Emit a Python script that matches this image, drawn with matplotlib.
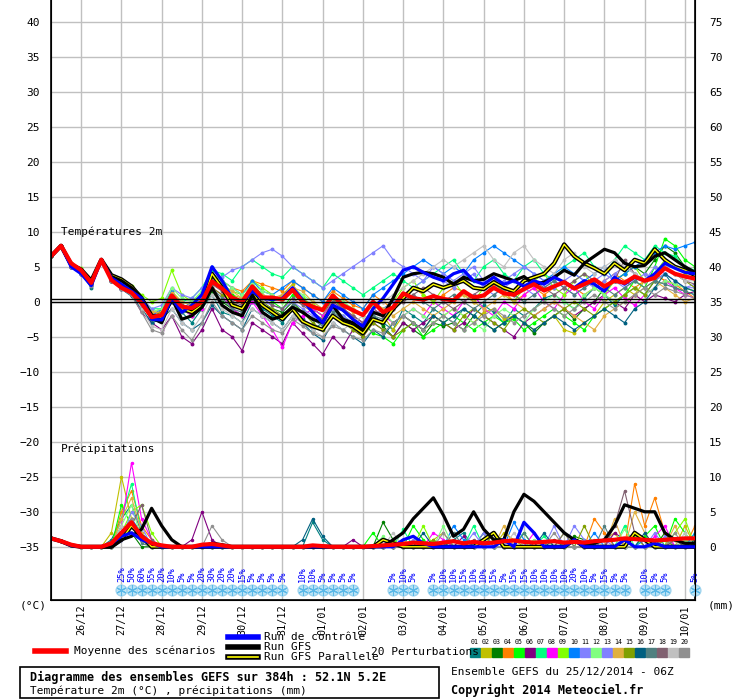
import matplotlib
matplotlib.use("Agg")
import matplotlib.pyplot as plt
import numpy as np
from matplotlib.patches import Rectangle

plt.rcParams['font.family'] = ['DejaVu Sans Mono']

n_steps = 65
day_labels = ["26/12","27/12","28/12","29/12","30/12","31/12","01/01","02/01",
              "03/01","04/01","05/01","06/01","07/01","08/01","09/01","10/01"]
day_index = [3 + 4*k for k in range(16)]

mean_temp = [6.5,8,5.5,4.5,2.7,6,3.1,2,1.3,-0.2,
             -2.2,-1.9,0.9,-0.7,-0.9,0,2.9,1.9,0.6,0,
             2.2,0.6,0.6,0.3,1.7,0,-0.7,-1.2,0.9,-0.5,
             -1.2,-1.9,0,-1.5,-0.8,1.2,0.5,0.3,0.8,0.4,
             0.2,1.5,0.6,0.9,2.0,1.2,1.0,1.8,2.5,1.6,
             2.2,2.8,1.9,2.5,3.2,2.2,3.0,2.7,3.6,3.0,
             3.4,4.8,4.0,3.6,3.3]
gfs_temp = [6.5,8,5.2,4.3,2.5,6,3.6,3,2,0.5,
            -2.3,-3,0.5,-2.5,-2,-0.8,2,-0.5,-1.5,-2,
            1,-1.5,-2.5,-2,-0.8,-1.5,-2.5,-3,-0.5,-2.5,
            -3,-4,-1.5,-2,0.5,3.5,4,4.2,4,3.5,
            2.5,3.5,3,3.2,4,3.5,3,3.6,2.5,2.8,
            3.5,4.5,3.8,5.5,6.5,7.5,7,5.5,5,5.2,
            6.5,7,6,5,4.2]
ctrl_temp = [6.5,8,5,4,2.3,6,3.4,2.5,1.5,0.5,
             -2.5,-2.6,0.5,-1.5,-0.5,1,5,3,0.5,0,
             1.5,0.5,0.3,0.5,2,0.3,-1.5,-3,-0.5,-1.2,
             -2.5,-3.5,-1,0.5,2.5,4.5,5,4.2,3.5,3,
             4,4.5,3,2.5,3.5,2.5,3,2.2,3,2.5,
             3.5,2.8,2,3,2.5,1.5,3.5,2.5,3.5,3,
             4,5.5,4.8,4.2,4.0]
para_temp = [6.5,8,5.3,4.6,3,6,3.8,3.2,2.2,0.5,
             -2,-2.2,0.3,-1,-1.5,-0.5,4,2,-0.5,-1,
             1.2,-0.5,-1.5,-2.5,-1,-2.8,-3.5,-4,-2,-3,
             -3.5,-4.5,-2.5,-3,-1,0.5,2,1.5,2.5,2,
             2.5,3,2,1.8,2.8,2,1.5,3,3.5,4,
             5.5,8.2,6.5,5.5,4.8,4,5.5,4.5,6,5.5,
             7.5,6,5,4.5,3.8]

pert_colors = ["#008080","#c0c000","#008000","#ff8000","#00ff00","#800080","#00ff80",
               "#ff00ff","#80ff00","#0080ff","#8080ff","#80ff80","#8080ff","#e0b040",
               "#80a000","#006080","#508080","#806070","#c0c0c0","#909090"]
pert_names = ["%02d" % (k+1) for k in range(20)]

pert_temp = [
 [6.5,8,5,4,2,6,3,2,1,-1, -3,-1,0,-1.5,-3,-1,1,-1.5,-2,-3, 0,-1,-2,-3,-1,-2.5,-4,-3,-1,-2, -3,-5,-2,-3,-4,-1,-2,-3,-1,-2, -3,-1,-2,-0.5,-1.5,-3,-1,-2,-1,0.5, 1,0,-1,0.5,2,1,-0.5,1,2,1, 3,4,2,1.5,1],
 [6.5,8,5.2,4.5,2.8,6,3.5,2.5,2,0, -1.5,-1,1.5,0,-0.5,1,3,2,1,0.5, 2,1,0,1,2.5,0.5,-1,-2,0,-1, -2,-3,-1,-2,-4,-2,-3,-4,-3,-2, -1,-2,-3,-1.5,-1,-2.5,-2,-3,-4,-3, -2,-4,-4.5,-3,-2,0,1,2,1,3, 4,3,2.5,2,1.5],
 [6.5,8,5,4.2,2.5,6,3.2,2,1,-0.5, -2.5,-2,0.5,-1,-2,-1,1.5,0,-1,-2, 0.5,-0.5,-1,-1.5,0,-1.5,-2.5,-3,-1,-2.5, -3.5,-5,-2,-3.5,-5,-3,-4,-5,-3,-3.5, -3,-4,-2,-3,-4,-3,-2,-3,-4.5,-3, -2,-1,-2.5,-1,0,2,3,4,5,4, 6,8,7,5,4],
 [6.5,8,5.4,4.4,2.7,6,3,2.2,1.5,0, -1.5,-1.5,1,-0.5,-1.5,0.5,2.5,3,2,1.5, 3,2.5,2,1.5,3,2,1,0,1.5,0.5, -0.5,-1,1,0,-1,1,2,1,0,1, 2,1.5,0,1,2.5,1.5,0,1,2,1, 2,3,2,1,2,3,4,3,2,3, 4,3,2.5,1.5,0.5],
 [6.5,8,5.6,4.6,3,6,3.6,2.4,1.4,-0.5, -2,-2.5,0,-1,-1.5,0,3,2,1,0, 2.5,1,0,-1,1,0,-1,-2,0.5,-1, -2,-3,-4.5,-5,-6,-4,-3,-5,-4,-3, -2,-3,-4,-3,-2,-3,-2.5,-4,-3,-2, -1,-2,-3,-4,-2,-1,0,1,3,2, 5,9,8,6,5],
 [6.5,8,5,4,2.5,5.5,3,1.8,1,-1.5, -3,-4,-2,-5,-6,-4,-1,-4,-5,-7, -3,-4,-5,-6,-3,-4.5,-6,-7.5,-5,-6.5, -4,-5,-3,-4,-5,-3,-4,-3,-2,-3, -4,-3,-1,-2,-3,-4,-5,-3,-2,-1, 0,-1,-2,-1,0,1,0,-1,1,0, 1,0.5,0,1,1.5],
 [6.5,8,5.3,4.3,2.6,6,3.3,2.2,1.6,0.5, -1,-1,1,0,0.5,2,4.5,4,3,5, 6,5,4,3.5,5,4,3,2,4,3, 2,1,2,3,4,3,2,3,4,5, 6,4,3,5,6,4,3,5,6,4, 3,5,6,7,5,4,6,8,7,6, 8,7,6.5,5,4.5],
 [6.5,8,5,4.1,2.4,6,3.1,1.9,1.2,-0.5, -1.5,-2,0,-1,-2,-1,2,1,-1,-2, 0,-2,-4,-6.5,-3,-2,-1,-2,0,-1, -2,-3,-1,-2,-3,-2,-1,-2,0,-1, -2,0,1,-1,-2,0,-1,1,2,0, -1,1,2,0,-1,1,2,0.5,-0.5,1, 2,3,2,1,0.5],
 [6.5,8,5.5,4.8,2.9,6,3.7,2.8,2.2,1, 0,0.5,4.5,1,0,1.5,3.5,2.5,1.5,1, 3,2,1,0,1.5,0.5,-0.5,-1,1,0, -1,-2,0,-1,0,2,3,1,0,2, 3,1,0,2,3,1,0,2,3,4, 2,1,3,4,2,1,3,4,5,3, 4,6,5,4,3],
 [6.5,8,5.1,4.2,2.6,6,3.3,2.3,1.4,0, -2,-1,1.5,-1,0,1,5,3,2,1, 3,1.5,1,2,3,2,1,0,2,1, 0,-1,1,2,3,4,5,6,5,4, 5,4,6,7,8,7,6,5,4,3, 4,5,4,3,4,5,3,4,5,6, 7,8,7.5,8,8.5],
 [6.5,8,5.4,4.5,2.8,6,3.5,2.6,1.8,0.5, -1,-0.5,2,1,0.5,2,3,3.5,4.5,5, 6,7,7.5,6.5,5,4,3,2,3,4, 5,6,7,8,6,5,4,3,5,4, 3,4,5,3,2,3,4,5,4,3, 2,3,4,3,2,3,4,5,4,3, 5,4,3,2,2.5],
 [6.5,8,5.3,4.6,3,6,3.6,2.7,2,0.5, -1.5,-1,2,0.5,0,1.5,4,3,2,1, 2.5,1.5,1,0,2,1,0,-1,1,0, -1,-2,-0.5,-1.5,-3,-2,-1,-2,-3,-2, -1,-2,-3,-4,-2,-1,-2,-3,-1,0, 1,0,-1,1,2,1,0,1,2,1, 2,3,2.5,2,1.5],
 [6.5,8,5,4,2.4,6,3.2,2.1,1.2,-0.3, -2,-2,0.3,-1.2,-1,0.5,3,2,0,-1, 1,0,-0.5,-1,0,-1,-2,-3,-1,-2, -3,-4,-2,-1,0,1,2,3,4,3, 2,3,4,2,1,2,3,2,1,2, 3,2,1,2,3,4,3,2,3,4, 3,4,3,2,2],
 [6.5,8,5.5,4.5,2.9,6,3.4,2.4,1.7,0.3, -1.5,-1.5,1.2,0,-0.5,1,2.5,2,1.5,0.5, 2,1,0.5,1,2,1.5,0,-1,0.5,-0.5, -1.5,-2,0,-1,-2,-1,0,-1,-2,-1, 0,1,0,-1,0,1,0,-1,-2,-1, 0,-1,-2,-3,-4,-2,-1,0,1,2, 3,2,1,0,0.5],
 [6.5,8,5.2,4.3,2.7,6,3.3,2.4,1.5,0, -2,-1.5,0.5,-1,-1.5,0,2,1,0,-1, 1,0,-1,-2,-0.5,-1.5,-3,-4,-2,-3, -4,-5,-3,-4,-5,-4,-3,-4,-2,-3, -4,-2,-1,-2,-3,-4,-2,-1,-2,-3, -2,-1,0,-1,-2,-1,0,1,2,1, 3,5,4,3,2],
 [6.5,8,5,4,2.2,5.8,3,1.8,0.8,-1, -3,-2.5,-1,-3,-4,-3,-0.5,-2,-3,-4, -1,-2,-3,-4,-2,-3,-4.5,-5.5,-3,-4, -5,-6,-4,-5,-3,-2,-3,-4,-2,-3, -2,-1,-2,-3,-4,-3,-2,-3,-4,-3, -2,-3,-4,-3,-2,-1,-2,-3,-1,0, 2,4,3,2,1.5],
 [6.5,8,5.3,4.2,2.5,6,3.2,2.1,1.3,-0.2, -2.5,-2,0,-1.5,-1.5,-0.5,2,0.5,-1,-1.5, 0.5,-0.5,-1.5,-2,-0.5,-1.5,-2.5,-3.5,-1.5,-2.5, -3,-4,-2,-2.5,-1,0,1,0,-1,0, 1,0,-1,0,1,2,1,0,1,2, 3,2,1,2,3,2,1,2,3,2, 3,2.5,2,1.5,1],
 [6.5,8,5.1,4.3,2.6,6,3.4,2.3,1.5,0, -2,-2,0.8,-0.5,-1,0,2.5,1.5,0,-0.5, 1.5,0.5,-0.5,-1,0.5,-0.5,-1.5,-2.5,0,-1, -2,-3,-1,-2,-1,0,1,2,1,0, -1,0,1,2,3,2,1,2,3,2, 1,2,3,4,3,2,3,6,4,3, 4,5,4,3,2.5],
 [6.5,8,5.5,4.7,3,6,3.4,2.3,1.5,-1, -3.5,-4,-1,-3,-4,-2,1,-1,-2,-3, -1,-2,-3,-4,-2,-3,-4,-5,-3,-4, -3,-2,-1,0,1,2,3,4,5,6, 5,6,7,8,6,5,7,8,6,5, 4,6,7,5,4,5,6,5,4,3, 4,5,4,3,3],
 [6.5,8,5,4,2.3,5.8,3,1.8,0.9,-1.5, -4,-4.5,-2,-4,-5.5,-3,0,-2,-3,-4, -2,-3,-4,-4.5,-2.5,-3.5,-4.5,-5,-3.5,-4, -5,-5.5,-4,-4.5,-3,-2,-3,-4,-3,-2, -3,-4,-3,-2,-1,-2,-3,-2,-1,0, -1,-2,-1,0,1,0,-1,0,1,2, 1,2,1.5,1,0.5],
]

precip_init = [1.2, 0.8, 0.3]
pert_precip = [
 {6:1,7:4,8:6,9:2,10:0.5,26:3.5,27:1,40:1,41:2,50:1,58:2,62:1},
 {6:2,7:10,8:4,9:1,38:1,39:2,45:2,46:1,55:1,56:2,63:3},
 {7:3,8:2,33:3.5,34:1,43:2,52:1.5,53:1,61:2},
 {7:5,8:8,9:3,10:1,44:2,54:4,55:2,58:9,59:3,60:7,61:2,64:3},
 {7:6,8:3,9:1,32:2,36:3,37:1,47:2,59:1.5,60:3,62:4,63:2},
 {7:2,8:3,9:1,14:1,15:5,16:1,30:1,41:1.5,56:2,57:1},
 {7:4,8:9,9:2,35:2.5,42:3,49:1.5,57:3,64:2},
 {7:3,8:12,9:4,10:1,38:2,39:1,48:2,60:1.5,61:3},
 {7:2,8:5,9:6,10:2,34:1,37:3,44:1,51:2,58:1.5,62:2,63:4},
 {7:1,8:4,9:2,40:3,41:1,46:3.5,47:1,54:2,59:1,64:2},
 {7:2,8:3,9:1,36:1,42:2,52:3,53:1,60:2},
 {7:3,8:6,9:1,33:1.5,39:3,48:1,57:2.5,63:1},
 {7:1,8:5,9:3,43:2,50:3,55:1,61:1.5},
 {7:4,8:7,9:2,35:1,45:3,56:4,58:5,59:2,62:3},
 {7:2,8:4,9:1,38:1,44:2,53:3,61:1},
 {7:1.5,8:3,9:1,25:1,26:4,27:1.5,37:2,49:2,59:2,64:1},
 {7:2,8:4,9:0.5,40:2,47:2,55:3,60:1},
 {7:1,8:3,9:6,10:1,42:1,51:2,56:3,57:8,58:2,62:1},
 {7:3,8:2,9:1,34:2,46:2,54:1,63:2},
 {7:2,8:4,9:1,16:3,17:1,39:2,50:2,57:1,62:2},
]
gfs_precip = [1.2,0.8,0.2,0,0,0,0,1,1.5,2.5,5.5,3,1,0,0,0,0.5,0.3,0,0,
              0,0,0,0,0,0,0,0,0,0,
              0,0,0,0,1,2,4,5.5,7,4.5,
              1.5,2.5,5,2.5,1,1,5,7.5,6.5,5,
              3.5,2,1,0.5,0.5,1,3,6,5.5,5,
              5,2,1,0.5,0.5]
ctrl_precip = {0:1.2,1:0.8,2:0.2,6:0.5,7:1.5,8:2,9:1,10:0.5,35:1,36:1.5,37:0.5,45:1,47:3.5,48:2,52:1,57:1,60:0.5}
para_precip = {0:1.2,1:0.8,2:0.2,7:1,8:3,9:1.5,33:1,34:0.5,43:1,44:2,52:1,58:2,59:1}
mean_precip = [1.2,0.8,0.3,0,0,0,0.5,2,3.5,1.5,
               0.5,0.2,0,0,0,0.3,0.4,0.2,0,0,
               0,0,0,0,0,0,0.2,0.1,0,0,
               0,0,0.1,0.2,0.3,0.4,0.6,0.5,0.4,0.6,
               0.8,0.5,0.7,0.5,0.6,0.8,0.9,0.7,0.6,0.7,
               0.8,0.6,0.7,0.6,0.8,0.9,1,1.2,1.1,1,
               0.9,1,1.1,1.2,1.2]

snow_index = list(range(7,24)) + list(range(25,31)) + [34,35,36] + list(range(38,58)) + [59,60,61,64]
snow_pct = [25,50,60,55,20,10,5,5,20,30,20,20,15,5,5,5,5,
            10,10,5,5,5,5,
            5,10,5,
            5,10,10,15,10,10,15,5,15,15,10,10,10,10,20,10,5,15,5,5,
            10,5,5,
            5]

def dense(sparse, init=None):
    arr = np.zeros(n_steps)
    if init is not None:
        arr[:len(init)] = init
    for k, v in sparse.items():
        arr[k] = v
    return arr

PBASE = -35.0
x = np.arange(n_steps)

fig = plt.figure(figsize=(7.4, 7.0), dpi=100)
ax = fig.add_axes([51/740, 100/700, 644/740, 600/700])
ax.set_xlim(0, 64)
ax.set_ylim(-42.6, 43.1)
for yv in range(-35, 45, 5):
    ax.axhline(yv, color="#c0c0c0", lw=1, zorder=0)
for xi in day_index:
    ax.axvline(xi, color="#c0c0c0", lw=1, zorder=0)

for k in range(20):
    ax.plot(x, pert_temp[k], color=pert_colors[k], lw=0.8, marker='o', ms=1.8, zorder=2)
    ax.plot(x, PBASE + dense(pert_precip[k], precip_init), color=pert_colors[k], lw=0.8,
            marker='o', ms=1.5, zorder=2)

ax.plot(x, para_temp, color='black', lw=3, zorder=3)
ax.plot(x, para_temp, color='#ffff00', lw=1, zorder=3)
ax.plot(x, PBASE + dense(para_precip), color='black', lw=3, zorder=3)
ax.plot(x, PBASE + dense(para_precip), color='#ffff00', lw=1, zorder=3)
ax.plot(x, gfs_temp, color='black', lw=2.3, zorder=4)
ax.plot(x, PBASE + np.array(gfs_precip), color='black', lw=2.3, zorder=4)
ax.plot(x, ctrl_temp, color='#0000ff', lw=2.3, zorder=5)
ax.plot(x, PBASE + dense(ctrl_precip), color='#0000ff', lw=2.3, zorder=5)
ax.plot(x, mean_temp, color='#ff0000', lw=3, zorder=6)
ax.plot(x, PBASE + np.array(mean_precip), color='#ff0000', lw=3, zorder=6)

ax.axhline(0, color='black', lw=1, zorder=7)
ax.axhline(0.45, color='black', lw=1, zorder=7)

ax.text(1.0, 9.2, "Températures 2m", fontsize=8, va='bottom', zorder=8)
ax.text(1.0, -21.8, "Précipitations", fontsize=8, va='bottom', zorder=8)

ax.scatter(snow_index, [-41.2]*len(snow_index), marker='o', s=60, color='#bfe6f7',
           edgecolor='#9fd4ee', zorder=8, clip_on=False)
ax.scatter(snow_index, [-41.2]*len(snow_index), marker=(6, 2, 0), s=45, color='#5ab8e8',
           lw=0.8, zorder=9, clip_on=False)
for xi, pc in zip(snow_index, snow_pct):
    ax.text(xi, -40.1, "%d%%" % pc, rotation=90, fontsize=6.3, color='#0000ff',
            ha='center', va='bottom', zorder=9)

ax.set_yticks(range(-35, 45, 5))
ax.tick_params(axis='y', length=0, labelsize=8, pad=8)
ax.set_xticks(day_index)
ax.set_xticklabels(day_labels, rotation=90, fontsize=7.3)
ax.tick_params(axis='x', length=0, pad=3)
ax.spines['top'].set_visible(False)
for s in ['left', 'right', 'bottom']:
    ax.spines[s].set_linewidth(1.2)

ax2 = ax.twinx()
ax2.set_ylim(-42.6 + 35, 43.1 + 35)
ax2.set_yticks(range(0, 80, 5))
ax2.tick_params(axis='y', length=0, labelsize=8, pad=10)
ax2.spines['top'].set_visible(False)

fig.text(20/740, 1 - 606/700, "(°C)", fontsize=8, va='center')
fig.text(708/740, 1 - 606/700, "(mm)", fontsize=8, va='center')

lg = fig.add_axes([0, 0, 1, 1], facecolor='none')
lg.set_xlim(0, 740); lg.set_ylim(700, 0); lg.axis('off')
lg.plot([228, 258], [637, 637], color='#0000ff', lw=4)
lg.text(264, 637, "Run de contrôle", fontsize=8, va='center')
lg.plot([228, 258], [647, 647], color='black', lw=4)
lg.text(264, 647, "Run GFS", fontsize=8, va='center')
lg.plot([228, 258], [657, 657], color='black', lw=4)
lg.plot([228, 258], [657, 657], color='#ffff00', lw=1.2)
lg.text(264, 657.5, "Run GFS Parallele", fontsize=8, va='center')
lg.plot([35, 66], [651, 651], color='#ff0000', lw=4)
lg.text(74, 651, "Moyenne des scénarios", fontsize=8, va='center')
lg.text(371, 652, "20 Perturbations", fontsize=8, va='center')
for k in range(20):
    x0 = 470 + k*11
    lg.add_patch(Rectangle((x0, 648), 10, 9, color=pert_colors[k]))
    lg.text(x0 + 5, 642, pert_names[k], fontsize=4.8, ha='center', va='center')
lg.add_patch(Rectangle((20, 667), 419, 31, fill=False, lw=1.2, ec='black'))
lg.text(30, 677, "Diagramme des ensembles GEFS sur 384h : 52.1N 5.2E", fontsize=8.5,
        fontweight='bold', va='center')
lg.text(30, 691, "Température 2m (°C) , précipitations (mm)", fontsize=8, va='center')
lg.text(451, 672, "Ensemble GEFS du 25/12/2014 - 06Z", fontsize=8, va='center')
lg.text(451, 690, "Copyright 2014 Meteociel.fr", fontsize=8.5, fontweight='bold', va='center')

fig.savefig("out.png", dpi=100)
